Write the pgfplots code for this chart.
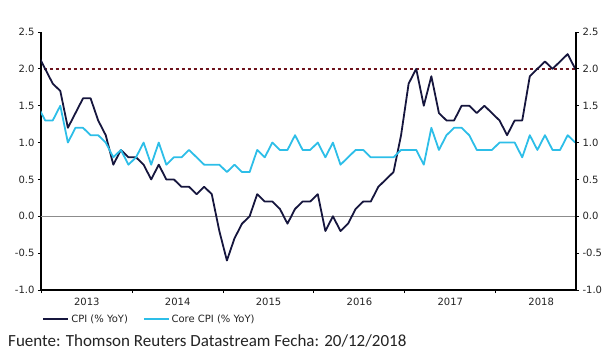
\documentclass[border=0pt]{standalone}
\usepackage{pgfplots}
\usepackage{pgfplotstable}
\pgfplotsset{compat=1.18}
\usepackage{fontspec}
\setmainfont{DejaVu Sans}
\newfontfamily\srcfont{Carlito}
\definecolor{cpi}{RGB}{22,22,62}
\definecolor{core}{RGB}{45,190,232}
\definecolor{tgt}{RGB}{110,20,30}
\definecolor{txt}{RGB}{35,35,35}

\pgfplotstableread{
m cpi core
-1 2.2 1.5
0 2.0 1.3
1 1.8 1.3
2 1.7 1.5
3 1.2 1.0
4 1.4 1.2
5 1.6 1.2
6 1.6 1.1
7 1.3 1.1
8 1.1 1.0
9 0.7 0.8
10 0.9 0.9
11 0.8 0.7
12 0.8 0.8
13 0.7 1.0
14 0.5 0.7
15 0.7 1.0
16 0.5 0.7
17 0.5 0.8
18 0.4 0.8
19 0.4 0.9
20 0.3 0.8
21 0.4 0.7
22 0.3 0.7
23 -0.2 0.7
24 -0.6 0.6
25 -0.3 0.7
26 -0.1 0.6
27 0.0 0.6
28 0.3 0.9
29 0.2 0.8
30 0.2 1.0
31 0.1 0.9
32 -0.1 0.9
33 0.1 1.1
34 0.2 0.9
35 0.2 0.9
36 0.3 1.0
37 -0.2 0.8
38 0.0 1.0
39 -0.2 0.7
40 -0.1 0.8
41 0.1 0.9
42 0.2 0.9
43 0.2 0.8
44 0.4 0.8
45 0.5 0.8
46 0.6 0.8
47 1.1 0.9
48 1.8 0.9
49 2.0 0.9
50 1.5 0.7
51 1.9 1.2
52 1.4 0.9
53 1.3 1.1
54 1.3 1.2
55 1.5 1.2
56 1.5 1.1
57 1.4 0.9
58 1.5 0.9
59 1.4 0.9
60 1.3 1.0
61 1.1 1.0
62 1.3 1.0
63 1.3 0.8
64 1.9 1.1
65 2.0 0.9
66 2.1 1.1
67 2.0 0.9
68 2.1 0.9
69 2.2 1.1
70 2.0 1.0
}\data

\pgfplotsset{
  commonax/.style={
    at={(41pt,64pt)}, anchor=south west,
    scale only axis, width=535pt, height=258pt,
    xmin=-0.55, xmax=70.1, ymin=-1, ymax=2.5,
    ytick={-1,-0.5,0,0.5,1,1.5,2,2.5},
    tick align=outside,
    major tick length=3pt,
    axis line style={line width=1.2pt, black},
    tick style={line width=1pt, black},
    tick label style={font=\fontsize{10}{12}\selectfont, text=txt},
    /pgf/number format/assume math mode=true,
    y tick label style={/pgf/number format/.cd, fixed, fixed zerofill, precision=1},
  }
}

\begin{document}
\begin{tikzpicture}[x=1pt,y=1pt]
\path[use as bounding box] (0,0) rectangle (611,354);
\begin{axis}[
  commonax,
  axis x line*=bottom, axis y line*=left,
  xtick={-0.5,11.5,23.5,35.5,47.5,59.5},
  xticklabels={},
  extra x ticks={5.5,17.5,29.5,41.5,53.5,65.5},
  extra x tick labels={2013,2014,2015,2016,2017,2018},
  extra x tick style={major tick length=0pt, tick label style={yshift=-5pt}},
  legend style={at={(-0.003,-0.1136)}, anchor=west, draw=none, fill=none,
    font=\fontsize{10}{12}\selectfont, text=txt,
    /tikz/every even column/.append style={column sep=13pt}},
  legend columns=2,
  legend image code/.code={\draw[#1, line width=1.7pt] (0pt,0pt) -- (25pt,0pt);},
]
\addplot[gray!90, line width=0.8pt, forget plot] coordinates {(-1,0) (71,0)};
\addplot[tgt, line width=1.4pt, dash pattern=on 3.5pt off 2.5pt, forget plot] coordinates {(-1,2) (71,2)};
\addplot[cpi, line width=1.8pt, line join=round] table[x=m, y=cpi] {\data};
\addlegendentry{CPI (\% YoY)}
\addplot[core, line width=1.8pt, line join=round] table[x=m, y=core] {\data};
\addlegendentry{Core CPI (\% YoY)}
\end{axis}
\begin{axis}[
  commonax,
  axis x line=none, axis y line*=right,
]
\end{axis}
\node[anchor=base west, inner sep=0pt, text=txt, font=\srcfont\fontsize{17}{20}\selectfont] at (8,7.5) {Fuente: Thomson Reuters Datastream Fecha: 20/12/2018};
\end{tikzpicture}
\end{document}
